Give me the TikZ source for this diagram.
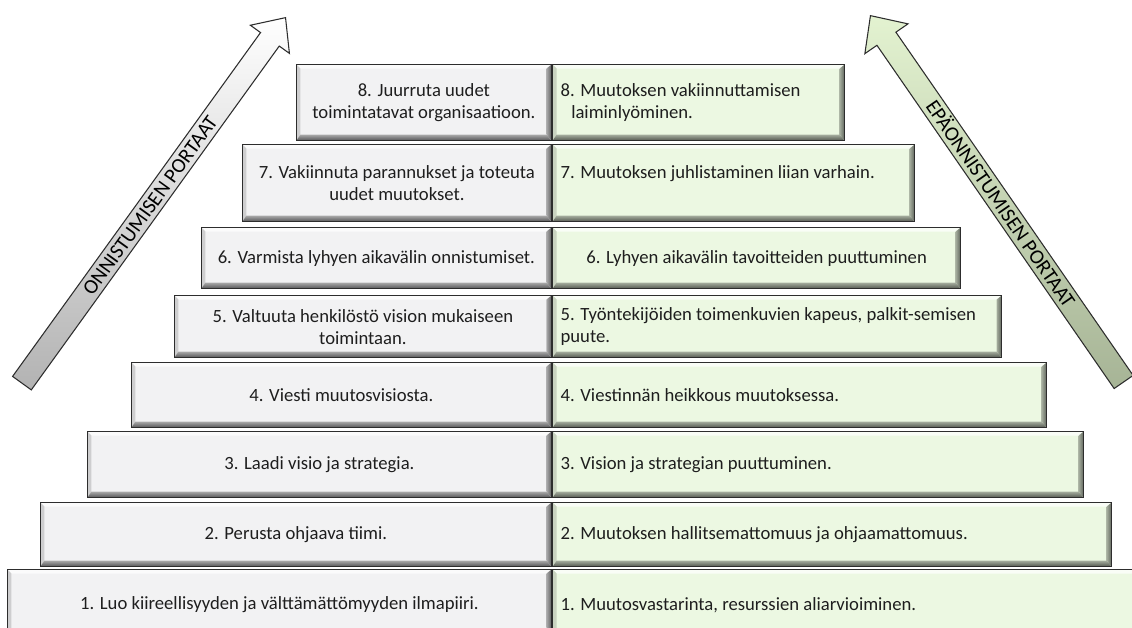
\documentclass[tikz,border=0pt]{standalone}
\usepackage{fontspec}
\setmainfont{Carlito}
\usetikzlibrary{shapes.arrows}

\definecolor{stepgray}{RGB}{242,242,243}
\definecolor{stepgreen}{RGB}{236,248,226}
\definecolor{edgegray}{RGB}{45,45,45}
\definecolor{inkgray}{RGB}{30,30,30}
\definecolor{arrowgreen}{RGB}{222,240,200}

\newcommand*{\px}{0.75pt}
\newcommand*{\divx}{552}
\newcommand*{\stepfont}{\fontsize{14}{16.5}\selectfont}
\newcommand*{\portfont}{\fontsize{15.5}{16}\selectfont}

\begin{document}
\begin{tikzpicture}
[
	x=\px, y=\px,
	bevel/.style={fill=#1, path picture={
		\coordinate (bnw) at (path picture bounding box.north west);
		\coordinate (bne) at (path picture bounding box.north east);
		\coordinate (bsw) at (path picture bounding box.south west);
		\coordinate (bse) at (path picture bounding box.south east);
		\fill[#1!30!white] (bnw) -- (bne) -- ([shift={(-5,-4)}]bne) -- ([shift={(4,-4)}]bnw) -- cycle;
		\fill[#1!85!black] (bnw) -- ([shift={(4,-4)}]bnw) -- ([shift={(4,6)}]bsw) -- (bsw) -- cycle;
		\shade[top color=#1!70!black, bottom color=#1!35!black] (bsw) -- ([shift={(4,6)}]bsw) -- ([shift={(-5,6)}]bse) -- (bse) -- cycle;
		\shade[left color=#1!70!black, right color=#1!40!black] (bne) -- ([shift={(-5,-4)}]bne) -- ([shift={(-5,6)}]bse) -- (bse) -- cycle;
	}},
	stepbox/.style={draw=edgegray, line width=0.9pt, inner ysep=0pt, text=inkgray, font=\stepfont},
	lbox/.style={stepbox, bevel=stepgray, anchor=north east, align=center, inner xsep=0pt},
	rbox/.style={stepbox, bevel=stepgreen, anchor=north west, align=flush left, inner xsep=6pt},
	portarrow/.style={single arrow, draw=edgegray, line width=0.8pt, inner xsep=0pt, inner ysep=0pt,
		text height=13.4pt, text depth=3.1pt, font=\portfont, text=black, anchor=tip}
]

	\useasboundingbox (0,0) rectangle (1132,628);
	\clip (0,0) rectangle (1132,628);

	% left column
	\node[lbox, minimum width=191.25pt, minimum height=57pt] (l8) at (\divx,564) {8. Juurruta uudet\\toimintatavat organisaatioon.};
	\node[lbox, minimum width=231.75pt, minimum height=57.75pt] (l7) at (\divx,484) {7. Vakiinnuta parannukset ja toteuta\\uudet muutokset.};
	\node[lbox, minimum width=262.5pt, minimum height=45.75pt] (l6) at (\divx,401) {6. Varmista lyhyen aikavälin onnistumiset.};
	\node[lbox, minimum width=282.75pt, minimum height=46.5pt] (l5) at (\divx,333) {5. Valtuuta henkilöstö vision mukaiseen\\toimintaan.};
	\node[lbox, minimum width=315pt, minimum height=48.75pt] (l4) at (\divx,266) {4. Viesti muutosvisiosta.};
	\node[lbox, minimum width=348pt, minimum height=49.5pt] (l3) at (\divx,197) {3. Laadi visio ja strategia.};
	\node[lbox, minimum width=383.25pt, minimum height=48pt] (l2) at (\divx,126) {2. Perusta ohjaava tiimi.};
	\node[lbox, minimum width=408pt, minimum height=53.25pt] (l1) at (\divx,59) {1. Luo kiireellisyyden ja välttämättömyyden ilmapiiri.};

	% right column
	\node[rbox, text width=207pt, minimum height=57pt] (r8) at (\divx,564) {8. Muutoksen vakiinnuttamisen\\\hspace*{8pt}laiminlyöminen.};
	\node[rbox, text width=259.5pt, minimum height=57.75pt] (r7) at (\divx,484) {7. Muutoksen juhlistaminen liian varhain.\\\mbox{}};
	\node[rbox, text width=294pt, minimum height=45.75pt, align=flush center] (r6) at (\divx,401) {6. Lyhyen aikavälin tavoitteiden puuttuminen};
	\node[rbox, text width=324.75pt, minimum height=46.5pt] (r5) at (\divx,333) {5. Työntekijöiden toimenkuvien kapeus, palkit-semisen\\puute.};
	\node[rbox, text width=358.5pt, minimum height=48.75pt] (r4) at (\divx,266) {4. Viestinnän heikkous muutoksessa.};
	\node[rbox, text width=386.25pt, minimum height=49.5pt] (r3) at (\divx,197) {3. Vision ja strategian puuttuminen.};
	\node[rbox, text width=407.25pt, minimum height=48pt] (r2) at (\divx,126) {2. Muutoksen hallitsemattomuus ja ohjaamattomuus.};
	\node[rbox, text width=432.75pt, minimum height=53.25pt] (r1) at (\divx,59) {1. Muutosvastarinta, resurssien aliarvioiminen.};

	% arrows
	\node[portarrow, top color=white, bottom color=gray!60, minimum height=338pt,
		single arrow head extend=9.4pt, single arrow tip angle=84, rotate=54.2] (upArrow) at (286,611) {ONNISTUMISEN PORTAAT};
	\node[portarrow, top color=arrowgreen!85!white, bottom color=arrowgreen!75!black, minimum height=334pt,
		single arrow head extend=11pt, single arrow tip angle=86, shape border rotate=180, rotate=-55.35] (downArrow) at (870,613) {EPÄONNISTUMISEN PORTAAT};

\end{tikzpicture}
\end{document}
